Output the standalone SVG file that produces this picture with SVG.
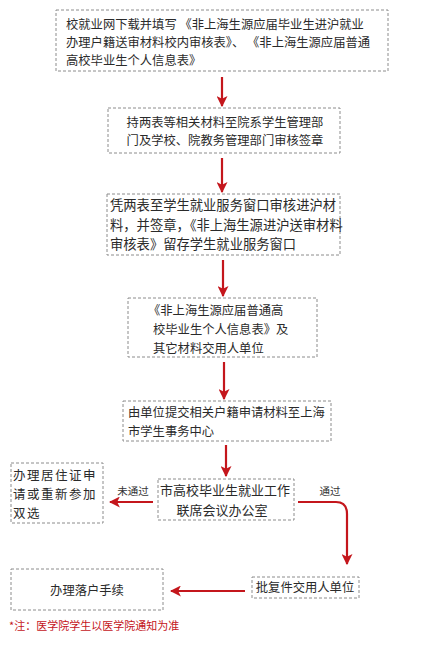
<svg xmlns="http://www.w3.org/2000/svg" width="425" height="646" viewBox="0 0 425 646">
<style>
.box{fill:#fff;stroke:#8c8c8c;stroke-width:1;stroke-dasharray:3,2}
.t{font-family:"Noto Sans CJK SC","Noto Sans",sans-serif;fill:#2a2a2a;font-size:12.3px}
.c{stroke:#c4161c;stroke-width:2.2;fill:none}
.lbl{font-family:"Noto Sans CJK SC","Noto Sans",sans-serif;fill:#333;font-size:10.5px}
.note{font-family:"Noto Sans CJK SC","Noto Sans",sans-serif;fill:#c4161c;font-size:11px}
</style>
<defs>
<marker id="ah" viewBox="0 0 10 10" refX="9" refY="5" markerWidth="5" markerHeight="5" orient="auto" markerUnits="strokeWidth">
<path d="M0,0 L10,5 L0,10 L2.5,5 z" fill="#c4161c"/>
</marker>
</defs>
<rect width="425" height="646" fill="#fff"/>
<g id="connectors">
<line class="c" x1="222" y1="77" x2="222" y2="106" marker-end="url(#ah)"/>
<line class="c" x1="222" y1="158" x2="222" y2="192" marker-end="url(#ah)"/>
<line class="c" x1="223" y1="260" x2="223" y2="296" marker-end="url(#ah)"/>
<line class="c" x1="224" y1="362" x2="224" y2="399" marker-end="url(#ah)"/>
<line class="c" x1="226" y1="445" x2="226" y2="476" marker-end="url(#ah)"/>
<line class="c" x1="153" y1="502" x2="110" y2="502" marker-end="url(#ah)"/>
<path class="c" d="M298,502 L336,502 Q347,502 347,514 L347,564" marker-end="url(#ah)"/>
<line class="c" x1="245" y1="591" x2="171" y2="591" marker-end="url(#ah)"/>
<text class="lbl" x="133" y="495" text-anchor="middle">未通过</text>
<text class="lbl" x="330" y="495" text-anchor="middle">通过</text>
</g>
<g id="n1">
<rect class="box" x="56" y="10" width="332" height="61"/>
<text class="t" x="66" y="29" xml:space="preserve">校就业网下载并填写 《非上海生源应届毕业生进沪就业</text>
<text class="t" x="66" y="47" xml:space="preserve">办理户籍送审材料校内审核表》、 《非上海生源应届普通</text>
<text class="t" x="66" y="65">高校毕业生个人信息表》</text>
</g>
<g id="n2">
<rect class="box" x="108" y="108" width="232" height="45"/>
<text class="t" x="225" y="127" text-anchor="middle">持两表等相关材料至院系学生管理部</text>
<text class="t" x="225" y="145" text-anchor="middle">门及学校、院教务管理部门审核签章</text>
</g>
<g id="n3">
<rect class="box" x="107" y="194" width="233" height="61"/>
<text class="t" x="110" y="210" style="font-size:13.3px">凭两表至学生就业服务窗口审核进沪材</text>
<text class="t" x="110" y="230" style="font-size:13.3px">料，并签章，《非上海生源进沪送审材料</text>
<text class="t" x="110" y="249" style="font-size:13.3px">审核表》留存学生就业服务窗口</text>
</g>
<g id="n4">
<rect class="box" x="128" y="298" width="189" height="59"/>
<text class="t" x="148" y="315">《非上海生源应届普通高</text>
<text class="t" x="153" y="334">校毕业生个人信息表》及</text>
<text class="t" x="153" y="353">其它材料交用人单位</text>
</g>
<g id="n5">
<rect class="box" x="123" y="401" width="208" height="40"/>
<text class="t" x="128" y="417">由单位提交相关户籍申请材料至上海</text>
<text class="t" x="128" y="436">市学生事务中心</text>
</g>
<g id="n6">
<rect class="box" x="158" y="479" width="136" height="41"/>
<text class="t" x="225" y="495" text-anchor="middle" style="font-size:13px">市高校毕业生就业工作</text>
<text class="t" x="222" y="515" text-anchor="middle" style="font-size:13px">联席会议办公室</text>
</g>
<g id="n7">
<rect class="box" x="11" y="463" width="92" height="60"/>
<text class="t" x="13" y="480" style="font-size:12.5px;letter-spacing:1.5px">办理居住证申</text>
<text class="t" x="13" y="499" style="font-size:12.5px;letter-spacing:1.5px">请或重新参加</text>
<text class="t" x="13" y="518" style="font-size:12.5px;letter-spacing:1.5px">双选</text>
</g>
<g id="n8">
<rect class="box" x="252" y="577" width="107" height="21"/>
<text class="t" x="305" y="592" text-anchor="middle">批复件交用人单位</text>
</g>
<g id="n9">
<rect class="box" x="11" y="569" width="152" height="41"/>
<text class="t" x="87" y="595" text-anchor="middle">办理落户手续</text>
</g>
<text class="note" x="9" y="630">*注：医学院学生以医学院通知为准</text>
</svg>
